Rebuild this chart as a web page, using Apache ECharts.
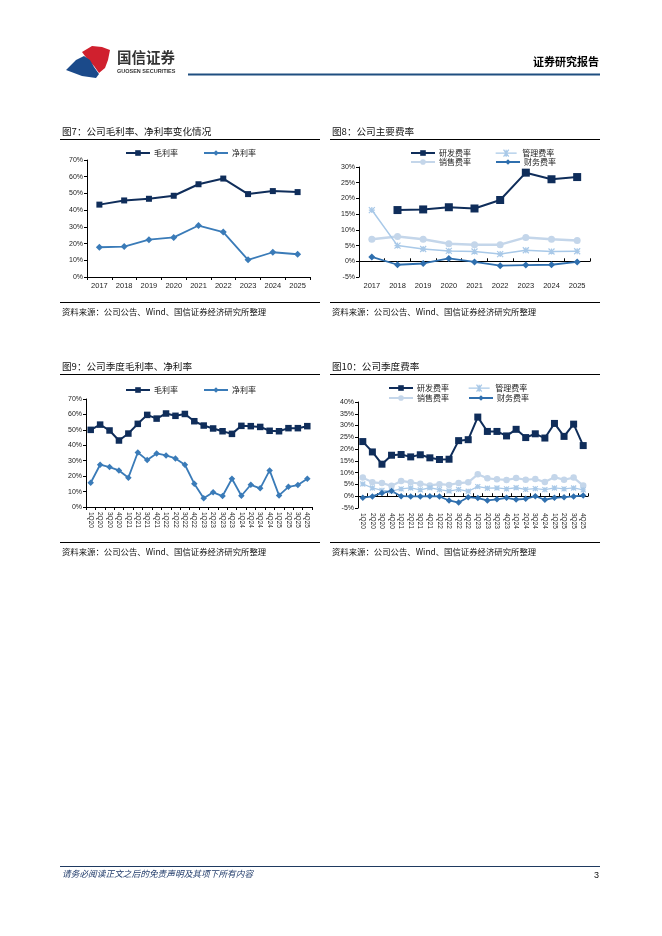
<!DOCTYPE html>
<html><head><meta charset="utf-8">
<script src="https://cdn.jsdelivr.net/npm/echarts@6/dist/echarts.min.js"></script>
<style>html,body{margin:0;padding:0;background:#fff}#c{width:662px;height:936px}</style>
</head><body><div id="c"></div>
<script>
// ---------- data ----------
const years = ['2017','2018','2019','2020','2021','2022','2023','2024','2025'];
const grossAnnual = [43.3, 45.8, 46.8, 48.6, 55.5, 58.9, 49.6, 51.4, 50.8];
const netAnnual   = [17.8, 18.2, 22.3, 23.7, 30.8, 26.9, 10.3, 14.8, 13.6];

const rdAnnual    = [null, 16.3, 16.5, 17.2, 16.8, 19.5, 28.2, 26.1, 26.8];
const adminAnnual = [16.3, 5.0, 3.9, 3.3, 3.1, 2.3, 3.5, 3.1, 3.2];
const salesAnnual = [7.0, 7.9, 7.0, 5.6, 5.3, 5.3, 7.6, 7.0, 6.6];
const finAnnual   = [1.4, -1.1, -0.7, 0.9, -0.2, -1.4, -1.2, -1.1, -0.2];

const quarters = ['1Q20','2Q20','3Q20','4Q20','1Q21','2Q21','3Q21','4Q21','1Q22','2Q22','3Q22','4Q22',
                  '1Q23','2Q23','3Q23','4Q23','1Q24','2Q24','3Q24','4Q24','1Q25','2Q25','3Q25','4Q25'];
const grossQ = [50.0, 53.4, 49.6, 43.1, 47.6, 53.9, 59.7, 57.3, 60.6, 59.1, 60.3, 55.6,
                52.8, 50.9, 49.1, 47.4, 52.6, 52.4, 51.9, 49.4, 49.1, 51.1, 51.1, 52.4];
const netQ   = [15.7, 27.4, 25.9, 23.7, 19.0, 35.3, 30.4, 34.7, 33.4, 31.5, 27.4, 15.1,
                5.6, 9.5, 7.1, 18.3, 7.3, 14.4, 12.1, 23.7, 7.5, 13.1, 14.2, 18.3];
const rdQ    = [23.2, 18.8, 13.6, 17.4, 17.7, 16.7, 17.6, 16.3, 15.6, 15.7, 23.6, 24.0,
                33.6, 27.5, 27.5, 25.6, 28.4, 24.9, 26.5, 24.7, 30.9, 25.4, 30.6, 21.5];
const salesQ = [7.9, 5.9, 5.6, 4.4, 6.5, 5.9, 5.3, 4.6, 5.1, 4.8, 5.6, 5.9,
                9.3, 7.6, 7.2, 6.9, 7.7, 7.0, 7.3, 6.0, 8.1, 7.0, 7.9, 4.5];
const adminQ = [5.2, 3.5, 2.5, 2.2, 3.1, 3.5, 2.7, 3.6, 2.8, 2.2, 2.9, 2.1,
                4.1, 3.4, 3.5, 3.1, 3.6, 2.9, 3.2, 2.8, 3.5, 3.1, 3.5, 2.7];
const finQ   = [-0.6, -0.1, 1.4, 2.2, 0.0, -0.1, -0.1, 0.0, -0.1, -1.8, -2.7, -0.4,
                -0.8, -1.8, -1.3, -0.7, -1.4, -1.1, 0.0, -1.5, -0.7, -0.4, -0.1, 0.3];

// ---------- styles ----------
const NAVY = '#0f2d5a', MID = '#3a7bb8', FIN = '#2f6fae', SALES = '#c4d6ea', ADMIN = '#a9c9e8';
const FONT = '"Liberation Sans", Arial, sans-serif';
const CJK = '"Noto Sans CJK SC", sans-serif';
const XMARK = 'path://M0,0L10,10M10,0L0,10M5,0L5,10M0,5L10,5';
const XLEG = 'path://M0,4L24,4M9,0L15,8M15,0L9,8M12,0L12,8';

function yAx(gi, min, max, interval) {
  return { gridIndex: gi, type: 'value', min: min, max: max, interval: interval,
    axisLine: { show: true, lineStyle: { color: '#000', width: 1 } },
    axisTick: { show: true, length: 3, lineStyle: { color: '#000' } },
    splitLine: { show: false },
    axisLabel: { formatter: '{value}%', fontSize: 7, color: '#222', fontFamily: FONT, margin: 4 } };
}
function xAx(gi, data, opts) {
  const o = Object.assign({ rotate: 0, showLine: true, showLabel: true, onZero: false, fs: 7.5 }, opts || {});
  return { gridIndex: gi, type: 'category', data: data, boundaryGap: true,
    axisLine: { show: o.showLine, onZero: o.onZero, lineStyle: { color: '#000', width: 1 } },
    axisTick: { show: o.showLine, length: 3, lineStyle: { color: '#000' } },
    splitLine: { show: false },
    axisLabel: { show: o.showLabel, rotate: o.rotate, fontSize: o.fs, color: '#222', fontFamily: FONT, margin: 5, interval: 0 } };
}
function line(name, data, xi, yi, color, symbol, size, width, extra) {
  return Object.assign({ name: name, type: 'line', data: data, xAxisIndex: xi, yAxisIndex: yi,
    symbol: symbol, symbolSize: size, showSymbol: true, animation: false,
    lineStyle: { color: color, width: width }, itemStyle: { color: color } }, extra || {});
}
function legend(name, left, top) {
  let item = name;
  if (name === '管理费率') {
    item = { name: name, icon: XLEG, itemStyle: { color: ADMIN, borderColor: ADMIN, borderWidth: 1.3 } };
  }
  return { data: [item], left: left, top: top, itemWidth: 24, itemHeight: 7, padding: 0, selectedMode: false,
    textStyle: { fontSize: 8, color: '#222', fontFamily: CJK, padding: [0, 0, 0, -1] } };
}
function txt(text, x, y, size, opts) {
  return Object.assign({ type: 'text', silent: true,
    style: Object.assign({ text: text, x: x, y: y, fontSize: size, fontFamily: CJK, fill: '#111', verticalAlign: 'middle' }, (opts || {})) });
}
function hline(x1, x2, y, color, w) {
  return { type: 'line', silent: true, shape: { x1: x1, y1: y, x2: x2, y2: y }, style: { stroke: color, lineWidth: w } };
}

const adminExtra = { itemStyle: { color: ADMIN, borderColor: ADMIN, borderWidth: 1.2 } };
const SRC = '资料来源：公司公告、Wind、国信证券经济研究所整理';

const option = {
  animation: false,
  grid: [
    { left: 87, top: 160, width: 223, height: 117, containLabel: false, outerBoundsMode: 'none' },
    { left: 359, top: 167, width: 231, height: 110, containLabel: false, outerBoundsMode: 'none' },
    { left: 86, top: 399, width: 226, height: 108, containLabel: false, outerBoundsMode: 'none' },
    { left: 358, top: 402, width: 230, height: 106, containLabel: false, outerBoundsMode: 'none' }
  ],
  xAxis: [
    xAx(0, years),
    xAx(1, years, { showLine: false }),
    xAx(1, years, { showLabel: false, onZero: true }),
    xAx(2, quarters, { rotate: -90, fs: 6.5 }),
    xAx(3, quarters, { rotate: -90, fs: 6.5, showLine: false }),
    xAx(3, quarters, { showLabel: false, onZero: true })
  ],
  yAxis: [ yAx(0, 0, 70, 10), yAx(1, -5, 30, 5), yAx(2, 0, 70, 10), yAx(3, -5, 40, 5) ],
  legend: [
    legend('毛利率', 125, 149), legend('净利率', 203, 149),
    legend('研发费率', 410, 149), legend('管理费率', 495, 149),
    legend('销售费率', 410, 158), legend('财务费率', 495, 158),
    legend('毛利率', 125, 386), legend('净利率', 203, 386),
    legend('研发费率', 388, 384), legend('管理费率', 468, 384),
    legend('销售费率', 388, 394), legend('财务费率', 468, 394)
  ],
  series: [
    line('毛利率', grossAnnual, 0, 0, NAVY, 'rect', 6, 2),
    line('净利率', netAnnual, 0, 0, MID, 'diamond', 7, 1.8),

    line('销售费率', salesAnnual, 1, 1, SALES, 'circle', 7, 2.5),
    line('管理费率', adminAnnual, 1, 1, ADMIN, XMARK, 6, 1.5, adminExtra),
    line('财务费率', finAnnual, 1, 1, FIN, 'diamond', 7, 1.8),
    line('研发费率', rdAnnual, 1, 1, NAVY, 'rect', 8, 2),

    line('毛利率', grossQ, 3, 2, NAVY, 'rect', 6.5, 2),
    line('净利率', netQ, 3, 2, MID, 'diamond', 6.5, 1.8),

    line('销售费率', salesQ, 4, 3, SALES, 'circle', 6.5, 2.2),
    line('管理费率', adminQ, 4, 3, ADMIN, XMARK, 5, 1.3, adminExtra),
    line('财务费率', finQ, 4, 3, FIN, 'diamond', 6.5, 1.8),
    line('研发费率', rdQ, 4, 3, NAVY, 'rect', 7, 2)
  ],
  graphic: [
    // logo
    { type: 'polygon', silent: true, shape: { points: [[82,52],[92,46],[102,47],[110,50],[108,60],[105,68],[99,73],[94,66],[88,60]] }, style: { fill: '#d0202e' } },
    { type: 'polygon', silent: true, shape: { points: [[66,70],[76,60],[84,56],[90,60],[94,67],[99,74],[96,78],[82,76]] }, style: { fill: '#1b4a8a' } },
    txt('国信证券', 117, 57, 14.5, { fill: '#333', fontWeight: 'bold' }),
    txt('GUOSEN SECURITIES', 117, 71, 5.5, { fill: '#333', fontFamily: FONT, fontWeight: 'bold' }),
    hline(188, 600, 74.5, '#1f4f80', 2),
    txt('证券研究报告', 599, 62, 11, { fill: '#000', fontWeight: 'bold', align: 'right' }),

    // titles
    txt('图7：公司毛利率、净利率变化情况', 62, 131, 9.6),
    hline(60, 320, 139.5, '#000', 1),
    txt('图8：公司主要费率', 332, 131, 9.6),
    hline(330, 600, 139.5, '#000', 1),
    txt('图9：公司季度毛利率、净利率', 62, 366, 9.6),
    hline(60, 320, 374.5, '#000', 1),
    txt('图10：公司季度费率', 332, 366, 9.6),
    hline(330, 600, 374.5, '#000', 1),

    // sources
    hline(60, 320, 302.5, '#000', 1),
    txt(SRC, 62, 312, 8.4),
    hline(330, 600, 302.5, '#000', 1),
    txt(SRC, 332, 312, 8.4),
    hline(60, 320, 542.5, '#000', 1),
    txt(SRC, 62, 552, 8.4),
    hline(330, 600, 542.5, '#000', 1),
    txt(SRC, 332, 552, 8.4),

    // footer
    hline(60, 600, 866.5, '#1f3a60', 1),
    txt('请务必阅读正文之后的免责声明及其项下所有内容', 62, 874, 8.7, { fill: '#1f3a6a', fontStyle: 'italic' }),
    txt('3', 599, 876, 9, { fill: '#111', fontFamily: FONT, align: 'right' })
  ]
};
const chart = echarts.init(document.getElementById('c'), null, { renderer: 'canvas' });
chart.setOption(option);
</script></body></html>
